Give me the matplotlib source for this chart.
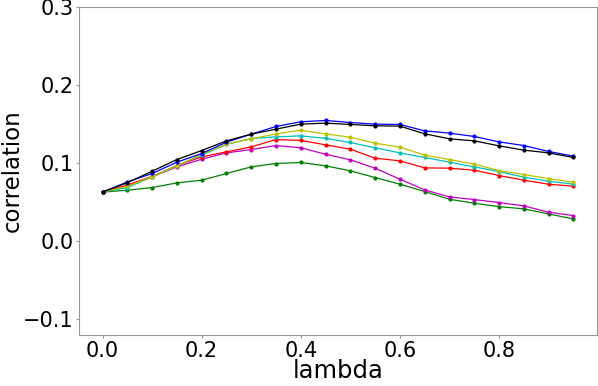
import numpy as np
import matplotlib
matplotlib.use('Agg')
import matplotlib.pyplot as plt

lam = [0.0, 0.05, 0.1, 0.15, 0.2, 0.25, 0.3, 0.35, 0.4, 0.45,
       0.5, 0.55, 0.6, 0.65, 0.7, 0.75, 0.8, 0.85, 0.9, 0.95]

corr_green = [0.063, 0.0654, 0.0688, 0.0748, 0.0782, 0.0868, 0.0953, 0.0996, 0.1009, 0.0966,
              0.0902, 0.0816, 0.0731, 0.0637, 0.0538, 0.0487, 0.0444, 0.0415, 0.0350, 0.0286]
corr_magenta = [0.063, 0.0714, 0.0825, 0.0953, 0.1051, 0.1132, 0.1175, 0.1226, 0.1197, 0.1115,
                0.1043, 0.0936, 0.0795, 0.0658, 0.0568, 0.0534, 0.0496, 0.0453, 0.0372, 0.0329]
corr_red = [0.063, 0.0720, 0.0830, 0.0970, 0.1081, 0.1145, 0.1209, 0.1303, 0.1291, 0.1235,
            0.1179, 0.1064, 0.1030, 0.0940, 0.0936, 0.0910, 0.0842, 0.0782, 0.0731, 0.0705]
corr_cyan = [0.063, 0.0688, 0.0825, 0.0970, 0.1103, 0.1240, 0.1316, 0.1337, 0.1350, 0.1318,
             0.1265, 0.1197, 0.1132, 0.1073, 0.1013, 0.0953, 0.0893, 0.0821, 0.0769, 0.0731]
corr_yellow = [0.063, 0.0705, 0.0825, 0.0966, 0.1115, 0.1244, 0.1312, 0.1376, 0.1423, 0.1374,
               0.1333, 0.1256, 0.1205, 0.1103, 0.1047, 0.0987, 0.0906, 0.0855, 0.0803, 0.0756]
corr_blue = [0.063, 0.0760, 0.0868, 0.1013, 0.1124, 0.1269, 0.1372, 0.1470, 0.1530, 0.1547,
             0.1521, 0.1500, 0.1496, 0.1414, 0.1385, 0.1342, 0.1273, 0.1226, 0.1150, 0.1090]
corr_black = [0.063, 0.0750, 0.0897, 0.1047, 0.1162, 0.1286, 0.1372, 0.1436, 0.1500, 0.1513,
              0.1496, 0.1479, 0.1474, 0.1376, 0.1312, 0.1286, 0.1222, 0.1167, 0.1132, 0.1073]

series = [(corr_green, 'g'), (corr_magenta, 'm'), (corr_red, 'r'), (corr_cyan, 'c'),
          (corr_yellow, 'y'), (corr_blue, 'b'), (corr_black, 'k')]

fig = plt.figure(figsize=(5.98, 3.86), dpi=100)
ax = fig.add_axes([79/598, 51/386, 518/598, 328/386])

for vals, c in series:
    ax.plot(lam, vals, color=c, marker='.', markersize=4, linewidth=0.9)

ax.set_ylim(-0.12, 0.3)
ax.set_yticks([-0.1, 0.0, 0.1, 0.2, 0.3])
ax.set_xticks([0.0, 0.2, 0.4, 0.6, 0.8])
ax.set_xlabel('lambda', fontsize=17.5, labelpad=-1)
ax.set_ylabel('correlation', fontsize=16.5)
# place the y label close to the left edge, as in the original
ax.yaxis.set_label_coords(-55/518, 0.5)
ax.tick_params(labelsize=15, length=2, color='#999999', pad=2)
for s in ax.spines.values():
    s.set_color('#999999')

fig.savefig('out.png', dpi=100)
